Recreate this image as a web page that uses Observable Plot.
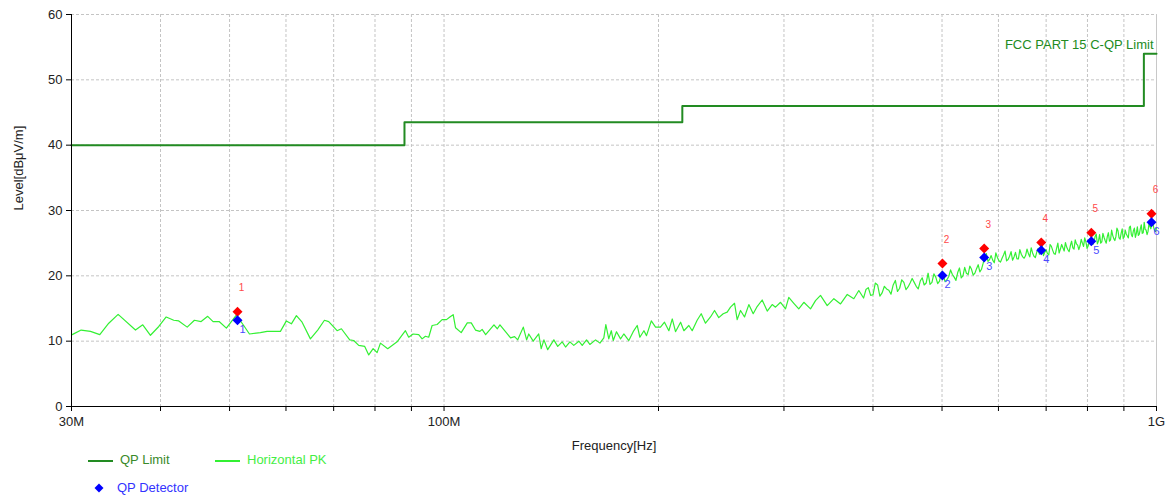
<!DOCTYPE html>
<html><head><meta charset="utf-8">
<script src="https://cdn.jsdelivr.net/npm/d3@7"></script>
<script src="https://cdn.jsdelivr.net/npm/@observablehq/plot@0.6"></script>
<style>
body{margin:0;background:#fff;font-family:"Liberation Sans",Arial,sans-serif}
#wrap{position:relative;width:1169px;height:500px;overflow:hidden}
.lg{position:absolute;font-size:13px;line-height:16px;white-space:nowrap}
.sw{position:absolute;height:2px}
</style></head>
<body><div id="wrap"><div id="chart"></div>
<div class="sw" style="left:88px;top:460px;width:25px;background:#228b22"></div>
<div class="lg" style="left:120px;top:452px;color:#3a8a2a">QP Limit</div>
<div class="sw" style="left:215px;top:460px;width:25px;background:#33f033"></div>
<div class="lg" style="left:247px;top:452px;color:#44ee44">Horizontal PK</div>
<svg style="position:absolute;left:94px;top:483px" width="10" height="10"><path d="M5 0.5 L9.5 5 L5 9.5 L0.5 5 Z" fill="#0000ff"/></svg>
<div class="lg" style="left:117px;top:480px;color:#3333ff">QP Detector</div>
</div>
<script>
// Horizontal PK trace, 30-382 MHz (frequency in MHz, level in dBµV/m)
const pkFreqLow = [30.07,30.95,31.9,32.87,33.84,34.88,36.89,37.77,38.72,39.78,40.74,41.75,42.43,43.6,44.63,45.61,46.59,47.41,48.34,49.49,51.1,52.34,53.32,55.24,56.45,58.93,60.08,61.06,62.06,63.21,64.93,66.48,67.94,68.89,70.78,71.77,73.73,74.69,75.9,77.39,78.4,79.52,80.55,81.42,83.36,85.93,88.27,89.21,90.49,92.14,93.16,94.16,95.17,96.22,97.79,99.38,100.8,101.9,103.0,103.8,105.7,107.8,109.2,110.7,112.3,113.1,114.4,117.5,118.8,119.8,122.7,124.0,125.6,126.9,129.2,130.6,131.5,133.4,135.8,136.9,138.1,139.8,142.6,144.4,146.5,148.1,150.2,152.1,154.6,156.3,158.5,160.2,163.2,165.5,167.6,168.7,170.3,171.7,172.8,174.6,176.9,178.8,181.7,184.3,186.7,188.3,190.8,192.4,195.4,198.1,201.3,203.9,206.8,209.1,211.3,214.8,217.1,220.6,223.0,226.6,229.6,232.8,236.6,239.7,243.0,246.5,249.7,252.4,255.7,257.9,260.7,264.1,267.8,271.6,275.1,279.6,284.2,288.8,291.9,296.7,301.5,304.7,309.7,314.7,319.9,326.9,332.2,337.6,345.0,352.5,360.2,368.1,376.0,382.1];
const pkLevelLow = [11.0,11.7,11.5,11.0,12.75,14.1,11.7,12.5,10.9,12.25,13.7,13.2,13.1,12.15,13.2,13.0,13.8,13.0,13.0,12.0,14.0,12.4,11.1,11.3,11.5,11.5,13.1,12.65,13.9,12.9,10.35,11.7,13.2,13.0,11.6,11.9,10.2,10.1,9.35,9.2,7.9,8.85,8.25,9.7,8.85,9.9,11.6,10.6,11.1,11.0,10.35,10.75,10.6,12.4,12.55,13.3,13.3,13.7,14.05,12.05,11.3,12.8,12.8,11.7,11.5,11.8,11.0,12.5,11.9,12.5,11.1,10.5,10.7,10.2,12.15,10.2,11.1,10.0,11.1,8.85,10.2,8.7,10.2,9.2,9.9,9.1,9.9,9.35,10.0,9.35,10.2,9.5,10.2,9.7,10.5,12.55,10.35,11.6,10.1,11.45,10.35,11.1,10.1,11.45,12.4,10.6,11.6,10.85,13.1,12.15,12.15,12.9,11.6,13.4,11.45,12.9,11.6,12.4,11.6,13.2,14.2,12.75,13.7,14.7,13.6,14.2,14.45,15.2,15.8,13.3,14.7,13.7,15.6,14.2,15.3,16.3,14.6,15.6,15.2,15.95,14.95,16.7,15.8,14.95,15.95,14.95,16.2,17.0,15.45,16.5,15.7,17.15,16.5,17.75];
// Horizontal PK trace, 388-1000 MHz
const pkFreqHigh = [388,391,394,397,400,403,406,409,412,415,418,421,424,427,430,433,436,439,442,445,448,451,454,457,460,463,466,469,472,475,478,481,484,487,490,493,496,499,502,505,508,511,514,517,520,523,526,529,532,535,538,541,544,547,550,553,556,559,562,565,568,571,574,577,580,583,586,589,592,595,598,601,604,607,610,613,616,619,622,625,628,631,634,637,640,643,646,649,652,655,658,661,664,667,670,673,676,679,682,685,688,691,694,697,700,703,706,709,712,715,718,721,724,727,730,733,736,739,742,745,748,751,754,757,760,763,766,769,772,775,778,781,784,787,790,793,796,799,802,805,808,811,814,817,820,823,826,829,832,835,838,841,844,847,850,853,856,859,862,865,868,871,874,877,880,883,886,889,892,895,898,901,904,907,910,913,916,919,922,925,928,931,934,937,940,943,946,949,952,955,958,961,964,967,970,973,976,979,982,985,988,991,994,997,1000];
const pkLevelHigh = [16.6,17.9,18.2,17.0,17.1,18.9,18.6,16.9,17.4,18.4,18.0,17.8,17.2,18.6,19.3,17.6,18.1,19.4,19.0,17.9,18.3,18.9,19.6,19.0,18.4,18.0,19.2,19.7,18.6,18.9,20.4,18.7,19.0,20.3,19.8,18.8,19.2,20.6,20.1,19.1,19.4,19.9,20.9,20.2,19.8,19.3,20.5,21.2,19.7,20.0,21.3,20.4,20.2,21.5,21.0,20.1,20.4,21.1,21.7,20.6,21.0,21.9,22.9,23.4,22.2,22.5,23.1,22.4,22.0,23.5,22.8,22.3,22.1,22.7,23.2,23.8,22.3,22.5,23.0,23.7,22.4,22.9,23.6,22.6,22.6,24.0,23.3,22.9,22.7,23.1,24.1,23.4,22.9,24.3,23.5,23.0,22.8,23.6,24.2,23.3,23.9,24.6,23.1,23.6,24.0,23.4,23.2,24.8,24.5,23.9,23.4,23.3,24.2,25.0,23.5,24.1,24.8,24.3,23.8,25.1,24.4,24.0,23.7,24.6,25.3,24.3,24.1,25.5,24.9,24.7,24.0,24.6,25.6,25.0,24.5,25.8,25.2,24.2,24.6,25.6,25.3,25.0,24.8,25.2,26.0,26.4,24.9,25.3,26.3,25.0,25.2,26.5,25.9,25.4,25.0,26.0,26.6,25.3,25.5,27.0,26.2,25.7,25.4,26.0,27.3,26.9,25.8,25.6,26.5,27.2,25.7,26.0,27.0,26.4,26.1,25.8,27.4,27.6,26.3,26.0,26.9,27.3,25.9,26.5,27.5,26.2,26.4,27.2,27.8,26.5,26.6,28.2,27.1,27.0,26.3,26.8,28.0,27.6,27.2,28.3,28.1,27.4,26.9,26.8,27.4];

// QP limit (step line)
const limitFreq = [30,88,88,216,216,960,960,1000];
const limitLevel = [40,40,43.5,43.5,46,46,54,54];
const limitLabel = "FCC PART 15 C-QP Limit";

// Markers
const markerNo = ["1","2","3","4","5","6"];
const markerFreq = [51.3,500.7,573,689,810,984];
const markerPK = [14.5,21.9,24.2,25.1,26.6,29.5];
const markerQP = [13.2,20.05,22.8,23.9,25.3,28.2];

// Axes
const yTicks = [0,10,20,30,40,50,60];
const xTicks = [30,40,50,60,70,80,90,100,200,300,400,500,600,700,800,900,1000];
const xGrid = [40,50,60,70,80,90,100,200,300,400,500,600,700,800,900];
const xTickLabels = {30:"30M",100:"100M",1000:"1G"};

const pkFreq = pkFreqLow.concat(pkFreqHigh);
const pkLevel = pkLevelLow.concat(pkLevelHigh);
const pk = pkFreq.map((f,i)=>({f, v: pkLevel[i]}));
const limit = limitFreq.map((f,i)=>({f, v: limitLevel[i]}));
const markers = markerFreq.map((f,i)=>({f, n: markerNo[i], pk: markerPK[i], qp: markerQP[i]}));

const chart = Plot.plot({
  width: 1169, height: 452,
  marginLeft: 71, marginRight: 13, marginTop: 14, marginBottom: 46,
  style: {fontFamily: '"Liberation Sans", Arial, sans-serif', fontSize: "13px", background: "white", color: "#222", overflow: "visible"},
  x: {type: "log", domain: [30, 1000]},
  y: {domain: [0, 60]},
  marks: [
    Plot.ruleX(xGrid, {stroke: "#c4c4c4", strokeDasharray: "3,2"}),
    Plot.ruleY(yTicks.filter(d => d > 0), {stroke: "#c4c4c4", strokeDasharray: "3,2"}),
    Plot.ruleX([1000], {stroke: "#c8c8c8"}),
    Plot.line(limit, {x: "f", y: "v", stroke: "#228b22", strokeWidth: 2}),
    Plot.line(pk, {x: "f", y: "v", stroke: "#33f033", strokeWidth: 1.2}),
    Plot.dot(markers, {x: "f", y: "pk", symbol: "diamond2", r: 4.5, fill: "#ff0000"}),
    Plot.dot(markers, {x: "f", y: "qp", symbol: "diamond2", r: 4.5, fill: "#0000ff"}),
    Plot.text(markers, {x: "f", y: "pk", text: "n", dx: 4, dy: -24, fill: "#ff4a4a", fontSize: 10}),
    Plot.text(markers, {x: "f", y: "qp", text: "n", dx: 5, dy: 9, fill: "#4a4aff", fontSize: 11}),
    Plot.text([limitLabel], {frameAnchor: "top-right", dx: -3, dy: 25, textAnchor: "end", fill: "#228b22", fontSize: 13}),
    Plot.axisY({ticks: yTicks, tickSize: 5, tickPadding: 4, label: null, stroke: "#000"}),
    Plot.axisX({ticks: xTicks, tickSize: 5, tickPadding: 5, tickFormat: d => xTickLabels[d] ?? "", label: null, stroke: "#000"}),
    Plot.ruleX([30], {stroke: "#000"}),
    Plot.ruleY([0], {stroke: "#000"}),
    Plot.text(["Frequency[Hz]"], {frameAnchor: "bottom", dy: 43, fill: "#222"}),
    Plot.text(["Level[dBμV/m]"], {frameAnchor: "left", dx: -53, rotate: -90, fill: "#222"})
  ]
});
document.getElementById("chart").appendChild(chart);
</script>
</body></html>
